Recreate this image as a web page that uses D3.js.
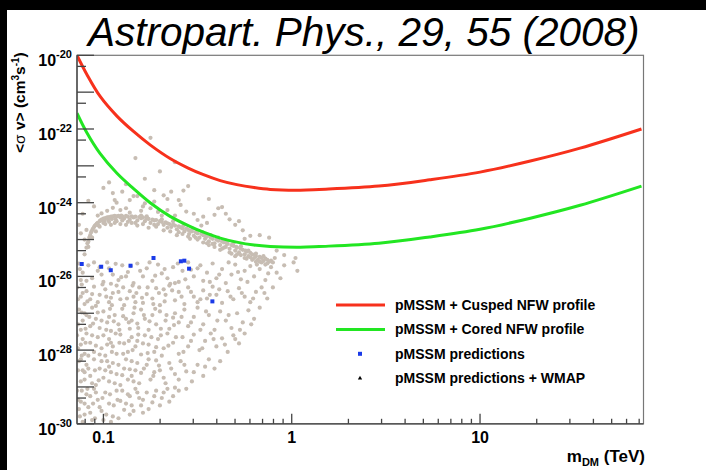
<!DOCTYPE html>
<meta charset="utf-8">
<style>
body { margin: 0; background: #000; }
svg { display: block; }
text { font-family: "Liberation Sans", Arial, Helvetica, sans-serif; }
.bold { font-weight: bold; }
</style>
<svg width="706" height="470"></svg>
<script src="https://d3js.org/d3.v7.min.js"></script>
<script>

// limit curves: mass in TeV, log10 of <sigma v> in cm^3 s^-1
var curveMass = [0.0724, 0.0817, 0.0959, 0.118, 0.144, 0.177, 0.226, 0.282, 0.34, 0.417, 0.511, 0.631, 0.769, 1.11, 1.4, 2.9, 5.4, 10, 18.5, 34, 72];
var cuspedLogSV = [-20.0, -20.52, -21.11, -21.65, -22.06, -22.43, -22.8, -23.06, -23.24, -23.4, -23.51, -23.59, -23.64, -23.66, -23.64, -23.55, -23.38, -23.17, -22.87, -22.52, -22.0];
var coredLogSV = [-21.57, -22.1, -22.66, -23.2, -23.61, -24.0, -24.37, -24.62, -24.8, -24.96, -25.07, -25.15, -25.19, -25.21, -25.19, -25.1, -24.93, -24.72, -24.42, -24.07, -23.55];

// pMSSM predictions (blue)
var predMass = [0.0767, 0.0973, 0.1094, 0.1393, 0.1845, 0.2578, 0.269, 0.285, 0.379];
var predSigmaV = [2.17e-26, 1.83e-26, 1.47e-26, 1.95e-26, 3.16e-26, 2.57e-26, 2.67e-26, 1.62e-26, 2.1e-27];

// pMSSM scan (grey), [log10 m/TeV, log10 <sigma v>]
var scanAbove = [[-0.75,-22.24],[-0.83,-22.79],[-0.70,-23.15],[-0.78,-23.35],[-0.95,-23.74],[-0.90,-23.70],[-0.94,-23.93],[-0.79,-24.10],[-0.84,-23.82],[-0.93,-24.0],[-0.73,-23.66],[-0.68,-23.8],[-0.64,-23.7],[-0.575,-23.67],[-0.60,-23.93],[-0.66,-23.9],[-0.39,-24.15],[-0.37,-24.12],[-0.41,-24.33],[-0.50,-24.47],[-0.47,-24.38],[-0.56,-24.24],[-0.59,-24.06],[-0.75,-24.15],[-0.73,-23.97],[-0.78,-24.02],[-0.82,-23.82],[-0.86,-23.93],[-0.88,-24.15],[-0.91,-24.2],[-0.95,-24.14],[-1.01,-24.29],[-1.12,-24.83],[-1.09,-24.74],[-1.10,-25.0],[-0.30,-24.6],[-0.26,-24.75],[-0.17,-24.88],[-0.12,-24.95],[-0.08,-25.3],[-0.33,-24.45],[-0.45,-24.55],[-0.52,-24.3],[-0.62,-24.35],[-1.05,-24.1],[-1.08,-23.95],[-1.0,-23.6],[-0.97,-23.45],[-0.55,-23.55],[-0.44,-23.9],[-0.35,-24.3],[-0.28,-24.5],[-0.22,-24.9],[-0.71,-24.25],[-0.66,-24.2],[-0.8,-24.22],[-0.98,-24.22],[-1.03,-24.35],[-0.88,-23.5],[-0.62,-22.9],[-1.13,-24.6],[-1.11,-24.3],[-0.86,-24.27],[-0.69,-24.35],[-0.48,-24.62],[-0.25,-24.98],[-0.04,-25.42],[0.02,-25.5]];

var scanBand = [[-1.10,-25.40],[-1.09,-25.22],[-1.085,-25.1],[-1.08,-25.05],[-1.075,-24.95],[-1.07,-24.88],[-1.065,-24.8],[-1.06,-24.75],[-1.055,-24.7],[-1.05,-24.66],[-1.045,-24.62],[-1.04,-24.6],[-1.035,-24.57],[-1.03,-24.55],[-1.025,-24.62],[-1.02,-24.5],[-1.015,-24.48],[-1.01,-24.46],[-1.0,-24.43],[-0.995,-24.5],[-0.99,-24.42],[-0.98,-24.4],[-0.975,-24.47],[-0.97,-24.39],[-0.96,-24.38],[-0.955,-24.44],[-0.95,-24.37],[-0.94,-24.36],[-0.935,-24.45],[-0.93,-24.37],[-0.92,-24.36],[-0.91,-24.4],[-0.905,-24.35],[-0.9,-24.37],[-0.89,-24.43],[-0.88,-24.36],[-0.87,-24.38],[-0.86,-24.46],[-0.85,-24.37],[-0.84,-24.4],[-0.83,-24.38],[-0.82,-24.48],[-0.81,-24.39],[-0.8,-24.42],[-0.79,-24.4],[-0.78,-24.5],[-0.77,-24.43],[-0.76,-24.44],[-0.75,-24.55],[-0.74,-24.46],[-0.73,-24.48],[-0.72,-24.47],[-0.71,-24.58],[-0.70,-24.5],[-0.69,-24.52],[-0.68,-24.6],[-0.67,-24.53],[-0.66,-24.56],[-0.65,-24.58],[-0.64,-24.66],[-0.63,-24.59],[-0.62,-24.62],[-0.61,-24.72],[-0.60,-24.64],[-0.59,-24.67],[-0.58,-24.7],[-0.57,-24.78],[-0.56,-24.7],[-0.55,-24.74],[-0.545,-24.85],[-0.54,-24.76],[-0.53,-24.78],[-0.52,-24.9],[-0.51,-24.8],[-0.50,-24.83],[-0.49,-24.95],[-0.48,-24.85],[-0.47,-24.88],[-0.46,-24.98],[-0.455,-24.9],[-0.45,-24.92],[-0.44,-25.05],[-0.43,-24.95],[-0.42,-24.98],[-0.41,-25.1],[-0.40,-25.0],[-0.39,-25.03],[-0.38,-25.15],[-0.37,-25.05],[-0.36,-25.08],[-0.35,-25.2],[-0.345,-25.1],[-0.34,-25.12],[-0.33,-25.25],[-0.32,-25.15],[-0.31,-25.17],[-0.30,-25.3],[-0.295,-25.2],[-0.29,-25.22],[-0.28,-25.35],[-0.27,-25.25],[-0.26,-25.28],[-0.25,-25.4],[-0.245,-25.3],[-0.24,-25.33],[-0.23,-25.45],[-0.22,-25.36],[-0.21,-25.4],[-0.20,-25.5],[-0.195,-25.42],[-0.19,-25.45],[-0.18,-25.55],[-0.17,-25.47],[-0.16,-25.5],[-0.15,-25.58],[-0.14,-25.52],[-0.13,-25.55],[-0.12,-25.6],[-0.11,-25.57],
  [-1.0,-24.55],[-0.97,-24.52],[-0.93,-24.5],[-0.9,-24.48],[-0.87,-24.52],[-0.83,-24.55],[-0.8,-24.35],[-0.77,-24.37],[-0.73,-24.6],[-0.69,-24.45],[-0.66,-24.68],[-0.63,-24.5],[-0.6,-24.8],[-0.575,-24.62],[-0.55,-24.92],[-0.525,-24.7],[-0.5,-25.0],[-0.475,-24.8],[-0.45,-25.1],[-0.43,-24.88],[-0.41,-25.2],[-0.39,-24.95],[-0.37,-25.25],[-0.35,-25.03],[-0.33,-25.35],[-0.31,-25.1],[-0.29,-25.4],[-0.27,-25.18],[-0.25,-25.5],[-0.23,-25.3],[-0.21,-25.55],[-0.19,-25.38],[-0.17,-25.6],[-0.15,-25.45],[-0.13,-25.65],
  [-1.08,-25.2],[-1.06,-24.95],[-1.04,-24.78],[-1.02,-24.65],[-0.99,-24.58],[-0.96,-24.6],[-0.94,-24.55],[-0.91,-24.58],[-0.88,-24.6],[-0.85,-24.55],[-0.82,-24.62],[-0.79,-24.58],[-0.76,-24.68],[-0.72,-24.65],[-0.68,-24.75],[-0.645,-24.78],[-0.61,-24.88],[-0.58,-24.85],[-0.54,-24.98],[-0.51,-24.95],[-0.47,-25.08],[-0.44,-25.15],[-0.42,-25.12],[-0.38,-25.28],[-0.36,-25.22],[-0.32,-25.38],[-0.3,-25.45],[-0.27,-25.42],[-0.24,-25.52],[-0.22,-25.48],[-0.19,-25.6],[-0.16,-25.62],[-0.14,-25.68],[-0.1,-25.62],[-0.09,-25.5]];

var scanBelow = [[-1.13,-25.65],[-1.11,-25.9],[-1.12,-26.1],[-1.08,-25.7],[-1.06,-26.05],[-1.03,-25.85],[-1.0,-26.15],[-0.98,-25.62],[-0.95,-25.95],[-0.92,-26.1],[-0.9,-25.7],[-0.87,-25.88],[-0.84,-26.18],[-0.82,-25.65],[-0.79,-26.0],[-0.77,-25.78],[-0.74,-26.12],[-0.71,-25.68],[-0.69,-25.92],[-0.66,-26.05],[-0.63,-25.75],[-0.6,-26.15],[-0.58,-25.85],[-0.55,-25.62],[-0.52,-26.0],[-0.5,-25.78],[-0.47,-26.12],[-0.45,-25.9],[-0.42,-25.65],[-0.4,-26.05],[-0.37,-25.8],[-0.35,-26.18],[-0.32,-25.95],[-0.3,-25.68],[-0.27,-26.08],[-0.25,-25.85],[-0.22,-25.72],[-0.2,-26.0],[-0.17,-25.8],[-0.14,-26.1],[-0.11,-25.75],[-0.08,-25.9],[-0.04,-25.7],[0.03,-25.85],[-0.62,-26.18],[-0.88,-26.0],[-1.02,-25.75],[-0.96,-26.2],
  [-1.14,-26.3],[-1.12,-26.55],[-1.1,-26.75],[-1.09,-26.4],[-1.07,-26.62],[-1.05,-26.28],[-1.04,-26.8],[-1.02,-26.5],[-0.99,-26.35],[-0.97,-26.7],[-0.95,-26.45],[-0.93,-26.25],[-0.91,-26.62],[-0.89,-26.78],[-0.86,-26.4],[-0.84,-26.55],[-0.81,-26.3],[-0.79,-26.72],[-0.77,-26.48],[-0.74,-26.6],[-0.72,-26.32],[-0.7,-26.78],[-0.67,-26.5],[-0.65,-26.25],[-0.62,-26.65],[-0.6,-26.42],[-0.57,-26.75],[-0.55,-26.3],[-0.52,-26.55],[-0.5,-26.7],[-0.47,-26.38],[-0.45,-26.6],[-0.42,-26.28],[-0.4,-26.5],[-0.37,-26.72],[-0.34,-26.4],[-0.31,-26.62],[-0.28,-26.32],[-0.25,-26.55],[-0.22,-26.7],[-0.19,-26.42],[-0.16,-26.3],[-0.13,-26.6],[-1.11,-26.45],[-0.96,-26.58],[-0.83,-26.7],[-0.68,-26.35],
  [-1.13,-26.9],[-1.11,-27.2],[-1.12,-27.45],[-1.09,-27.05],[-1.07,-27.35],[-1.06,-26.85],[-1.04,-27.15],[-1.02,-27.4],[-1.0,-26.95],[-0.98,-27.25],[-0.96,-27.48],[-0.94,-27.05],[-0.92,-27.3],[-0.9,-26.88],[-0.88,-27.15],[-0.86,-27.42],[-0.84,-27.0],[-0.82,-27.28],[-0.8,-26.9],[-0.78,-27.15],[-0.76,-27.45],[-0.74,-27.05],[-0.72,-27.3],[-0.7,-26.95],[-0.67,-27.2],[-0.65,-27.42],[-0.62,-27.0],[-0.6,-27.25],[-0.57,-26.9],[-0.55,-27.35],[-0.52,-27.1],[-0.5,-26.85],[-0.47,-27.3],[-0.44,-27.05],[-0.41,-27.45],[-0.38,-26.95],[-0.35,-27.2],[-0.32,-27.4],[-0.29,-27.0],[-0.26,-27.25],[-0.23,-26.92],[-0.2,-27.15],[-0.17,-26.85],[-1.1,-27.0],[-0.97,-27.1],[-0.85,-27.2],[-0.63,-27.12],
  [-1.14,-27.6],[-1.12,-27.85],[-1.1,-28.1],[-1.09,-27.55],[-1.07,-27.8],[-1.05,-28.05],[-1.03,-27.65],[-1.01,-27.95],[-0.99,-28.15],[-0.97,-27.7],[-0.95,-27.9],[-0.93,-28.1],[-0.91,-27.58],[-0.89,-27.82],[-0.87,-28.05],[-0.85,-27.65],[-0.83,-27.9],[-0.8,-28.12],[-0.78,-27.6],[-0.76,-27.85],[-0.73,-28.05],[-0.71,-27.7],[-0.68,-27.95],[-0.66,-27.55],[-0.63,-27.8],[-0.6,-28.1],[-0.58,-27.65],[-0.55,-27.9],[-0.52,-27.58],[-0.49,-28.0],[-0.46,-27.75],[-0.43,-27.55],[-0.4,-27.9],[-0.37,-27.68],[-0.34,-28.05],[-0.31,-27.6],[-0.28,-27.82],[-0.25,-27.55],[-1.11,-27.7],[-0.96,-27.8],[-0.82,-27.75],[-0.69,-28.15],
  [-1.13,-28.3],[-1.11,-28.55],[-1.12,-28.85],[-1.09,-28.4],[-1.07,-28.7],[-1.05,-28.25],[-1.04,-28.95],[-1.02,-28.5],[-1.0,-28.75],[-0.98,-28.3],[-0.96,-28.6],[-0.94,-28.9],[-0.92,-28.4],[-0.9,-28.68],[-0.88,-28.25],[-0.86,-28.52],[-0.84,-28.85],[-0.82,-28.35],[-0.8,-28.62],[-0.77,-28.4],[-0.75,-28.8],[-0.72,-28.28],[-0.7,-28.55],[-0.67,-28.9],[-0.65,-28.35],[-0.62,-28.65],[-0.59,-28.3],[-0.56,-28.58],[-0.53,-28.85],[-0.5,-28.4],[-0.47,-28.7],[-0.44,-28.25],[-0.41,-28.5],[-0.38,-28.3],[-1.1,-28.6],[-0.97,-28.45],[-0.85,-28.7],[-0.73,-28.6],
  [-1.14,-29.1],[-1.12,-29.4],[-1.1,-29.75],[-1.09,-29.2],[-1.08,-29.55],[-1.06,-29.9],[-1.05,-29.05],[-1.03,-29.35],[-1.01,-29.65],[-0.99,-29.15],[-0.97,-29.45],[-0.95,-29.8],[-0.93,-29.1],[-0.91,-29.38],[-0.89,-29.62],[-0.87,-29.2],[-0.85,-29.5],[-0.83,-29.05],[-0.81,-29.3],[-0.79,-29.7],[-0.77,-29.15],[-0.74,-29.42],[-0.72,-29.1],[-0.69,-29.3],[-0.66,-29.05],[-0.63,-29.25],[-0.6,-29.1],[-0.56,-29.05],[-1.11,-29.95],[-1.07,-29.25],[-1.0,-29.9],[-0.92,-29.85],[-0.86,-29.75],[-0.8,-29.5],[-1.13,-29.6]];

var scanBelowFill = [[-1.125,-25.8],[-1.09,-26.12],[-1.05,-25.62],[-1.01,-25.95],[-0.97,-25.78],[-0.935,-25.66],[-0.905,-26.02],[-0.855,-25.72],[-0.805,-25.85],[-0.755,-25.62],[-0.725,-25.98],[-0.675,-25.8],[-0.645,-26.2],[-0.605,-25.65],[-0.565,-26.08],[-0.535,-25.82],[-0.485,-25.7],[-0.435,-26.15],[-0.385,-25.95],[-0.335,-25.62],[-0.285,-25.88],[-0.235,-26.15],[-0.185,-25.68],[-0.125,-25.92],[-0.06,-26.05],[0.01,-25.62],
  [-1.135,-26.62],[-1.115,-26.22],[-1.085,-26.68],[-1.06,-26.48],[-1.03,-26.7],[-1.005,-26.22],[-0.985,-26.55],[-0.955,-26.78],[-0.92,-26.42],[-0.895,-26.3],[-0.875,-26.6],[-0.845,-26.25],[-0.825,-26.45],[-0.795,-26.58],[-0.765,-26.3],[-0.735,-26.75],[-0.705,-26.45],[-0.675,-26.68],[-0.635,-26.38],[-0.585,-26.55],[-0.535,-26.42],[-0.485,-26.62],[-0.435,-26.5],[-0.385,-26.35],[-0.325,-26.55],[-0.265,-26.45],[-0.205,-26.6],[-0.145,-26.45],[-0.1,-26.3],
  [-1.135,-27.3],[-1.115,-26.98],[-1.095,-27.42],[-1.075,-27.1],[-1.055,-27.28],[-1.03,-26.98],[-1.01,-27.2],[-0.985,-27.45],[-0.965,-26.88],[-0.945,-27.22],[-0.915,-27.45],[-0.895,-27.08],[-0.865,-27.25],[-0.835,-26.85],[-0.815,-27.4],[-0.785,-27.05],[-0.755,-27.22],[-0.725,-26.88],[-0.695,-27.42],[-0.665,-27.05],[-0.625,-27.32],[-0.585,-27.1],[-0.535,-27.25],[-0.485,-27.45],[-0.455,-26.95],[-0.395,-27.2],[-0.335,-27.05],[-0.275,-27.45],[-0.215,-27.3],
  [-1.135,-27.95],[-1.115,-28.15],[-1.095,-27.8],[-1.08,-28.15],[-1.06,-27.6],[-1.04,-27.88],[-1.02,-28.12],[-1.0,-27.6],[-0.98,-27.85],[-0.955,-28.05],[-0.935,-27.55],[-0.915,-27.8],[-0.895,-28.1],[-0.865,-27.75],[-0.845,-28.0],[-0.815,-27.58],[-0.79,-27.82],[-0.765,-28.08],[-0.745,-27.65],[-0.72,-27.92],[-0.695,-27.6],[-0.655,-27.88],[-0.615,-27.65],[-0.575,-28.05],[-0.535,-27.75],[-0.475,-27.95],[-0.415,-27.7],[-0.355,-27.85],[-0.3,-27.7],
  [-1.135,-28.55],[-1.12,-28.25],[-1.1,-28.8],[-1.08,-28.5],[-1.06,-28.9],[-1.045,-28.55],[-1.025,-28.82],[-1.01,-28.3],[-0.99,-28.55],[-0.97,-28.85],[-0.95,-28.35],[-0.93,-28.65],[-0.91,-28.95],[-0.89,-28.5],[-0.87,-28.8],[-0.85,-28.3],[-0.83,-28.55],[-0.81,-28.9],[-0.785,-28.5],[-0.76,-28.25],[-0.735,-28.7],[-0.705,-28.42],[-0.68,-28.75],[-0.64,-28.5],[-0.6,-28.8],[-0.57,-28.4],[-0.52,-28.6],[-0.46,-28.45],
  [-1.135,-29.35],[-1.125,-29.8],[-1.115,-29.1],[-1.1,-29.45],[-1.085,-29.05],[-1.07,-29.7],[-1.055,-29.45],[-1.04,-29.15],[-1.02,-29.55],[-1.005,-29.3],[-0.985,-29.75],[-0.965,-29.2],[-0.945,-29.5],[-0.925,-29.35],[-0.9,-29.1],[-0.88,-29.45],[-0.86,-29.25],[-0.84,-29.65],[-0.82,-29.15],[-0.79,-29.35],[-0.76,-29.6],[-0.73,-29.25],[-0.7,-29.5],[-0.68,-29.15],[-0.65,-29.4],[-0.62,-29.02],[-1.045,-29.85],[-0.96,-29.95]];

var yLabelExp = [-20, -22, -24, -26, -28, -30];
var xLabelValues = [0.1, 1, 10];
var legendLabels = ["pMSSM + Cusped NFW profile", "pMSSM + Cored NFW profile", "pMSSM predictions", "pMSSM predictions + WMAP"];

var svg = d3.select("svg");
var frameL = 77, frameR = 643.5, frameT = 55.3, frameB = 423.8;

var x = d3.scaleLog().domain([0.0724, 73.8]).range([frameL, frameR]);
var y = d3.scaleLog().domain([1e-30, 1e-20]).range([frameB, frameT]);

var red = "#f7311c", green = "#22e622", blue = "#1a3ae8";

// page
svg.append("rect").attr("width", 706).attr("height", 470).attr("fill", "#000");
svg.append("rect").attr("x", 7).attr("y", 10).attr("width", 699).attr("height", 460).attr("fill", "#fff");

svg.append("text")
    .attr("x", 88).attr("y", 46)
    .style("font-size", "40.5px").style("font-style", "italic")
    .text("Astropart. Phys., 29, 55 (2008)");

svg.append("clipPath").attr("id", "frame")
  .append("rect").attr("x", frameL).attr("y", frameT).attr("width", frameR - frameL).attr("height", frameB - frameT);

var plot = svg.append("g").attr("clip-path", "url(#frame)");

// scan points
var scan = scanAbove.concat(scanBand, scanBelow, scanBelowFill);
plot.selectAll(".scan")
  .data(scan)
  .enter().append("circle")
    .attr("class", "scan")
    .attr("cx", function(d) { return x(Math.pow(10, d[0])); })
    .attr("cy", function(d) { return y(Math.pow(10, d[1])); })
    .attr("r", 2.1)
    .attr("fill", "#c7bdb3");

plot.selectAll(".pred")
  .data(predMass)
  .enter().append("rect")
    .attr("class", "pred")
    .attr("x", function(d) { return x(d) - 2; })
    .attr("y", function(d, i) { return y(predSigmaV[i]) - 2; })
    .attr("width", 4).attr("height", 4)
    .attr("fill", blue);

var line = d3.line()
    .x(function(d) { return x(d[0]); })
    .y(function(d) { return y(Math.pow(10, d[1])); })
    .curve(d3.curveCatmullRom.alpha(0.5));

plot.append("path")
    .datum(d3.zip(curveMass, cuspedLogSV))
    .attr("d", line)
    .attr("fill", "none").attr("stroke", red).attr("stroke-width", 3);

plot.append("path")
    .datum(d3.zip(curveMass, coredLogSV))
    .attr("d", line)
    .attr("fill", "none").attr("stroke", green).attr("stroke-width", 3);

// frame
svg.append("rect")
    .attr("x", frameL).attr("y", frameT).attr("width", frameR - frameL).attr("height", frameB - frameT)
    .attr("fill", "none").attr("stroke", "#777").attr("stroke-width", 1.2);

// y ticks
var ticks = svg.append("g").attr("stroke", "#444").attr("stroke-width", 1.3);
for (var e = -30; e <= -20; e++) {
  [1, 5].forEach(function(k) {
    var v = k * Math.pow(10, e);
    if (v > 1e-20 * 1.0001) return;
    ticks.append("line")
        .attr("x1", frameL).attr("x2", frameL + (k === 1 ? 17 : 9))
        .attr("y1", y(v)).attr("y2", y(v));
  });
}
// x ticks
[0.01, 0.1, 1, 10].forEach(function(dec) {
  for (var k = 1; k <= 9; k++) {
    var v = k * dec;
    if (v < 0.0724 || v > 73.8) continue;
    ticks.append("line")
        .attr("x1", x(v)).attr("x2", x(v))
        .attr("y1", frameB).attr("y2", frameB - (k === 1 ? 10 : 5));
  }
});
svg.append("line").attr("x1", frameL).attr("x2", frameL).attr("y1", frameT).attr("y2", frameB)
    .attr("stroke", "#444").attr("stroke-width", 1.3);
svg.append("line").attr("x1", frameL).attr("x2", frameR).attr("y1", frameB).attr("y2", frameB)
    .attr("stroke", "#444").attr("stroke-width", 1.3);

// tick labels
yLabelExp.forEach(function(ex) {
  var t = svg.append("text").attr("class", "bold")
      .attr("x", 72).attr("y", y(Math.pow(10, ex)) + 11)
      .attr("text-anchor", "end");
  t.append("tspan").style("font-size", "16px").text("10");
  t.append("tspan").style("font-size", "11px").attr("dy", -8).text(String(ex));
});

svg.selectAll(".xlab")
  .data(xLabelValues)
  .enter().append("text")
    .attr("class", "bold xlab")
    .attr("x", function(d) { return x(d); })
    .attr("y", 443)
    .attr("text-anchor", "middle")
    .style("font-size", "16px")
    .text(function(d) { return String(d); });

// axis titles
var xt = svg.append("text").attr("class", "bold")
    .attr("x", 645).attr("y", 461.5).attr("text-anchor", "end").style("font-size", "17px");
xt.append("tspan").text("m");
xt.append("tspan").style("font-size", "11px").attr("dy", 4).text("DM");
xt.append("tspan").attr("dy", -4).text(" (TeV)");

var yt = svg.append("text").attr("class", "bold")
    .attr("transform", "translate(25,153) rotate(-90)").style("font-size", "15.5px");
yt.append("tspan").text("<");
yt.append("tspan").style("font-weight", "normal").text("σ");
yt.append("tspan").text(" v> (cm");
yt.append("tspan").style("font-size", "10px").attr("dy", -6).text("3");
yt.append("tspan").attr("dy", 6).text("s");
yt.append("tspan").style("font-size", "10px").attr("dy", -6).text("-1");
yt.append("tspan").attr("dy", 6).text(")");

// legend
var legend = svg.append("g");
var legendY = function(i) { return 305 + i * 24.4; };
legend.append("line").attr("x1", 336).attr("x2", 385).attr("y1", legendY(0)).attr("y2", legendY(0))
    .attr("stroke", red).attr("stroke-width", 3);
legend.append("line").attr("x1", 336).attr("x2", 385).attr("y1", legendY(1)).attr("y2", legendY(1))
    .attr("stroke", green).attr("stroke-width", 3);
legend.append("rect").attr("x", 358).attr("y", legendY(2) - 2).attr("width", 4).attr("height", 4)
    .attr("fill", blue);
legend.append("path").attr("d", d3.symbol().type(d3.symbolTriangle).size(8)())
    .attr("transform", "translate(360," + legendY(3) + ")").attr("fill", "#000");
legend.selectAll(".ltext")
  .data(legendLabels)
  .enter().append("text")
    .attr("class", "bold ltext")
    .attr("x", 395)
    .attr("y", function(d, i) { return legendY(i) + 5; })
    .style("font-size", "14px")
    .text(function(d) { return d; });

</script>
